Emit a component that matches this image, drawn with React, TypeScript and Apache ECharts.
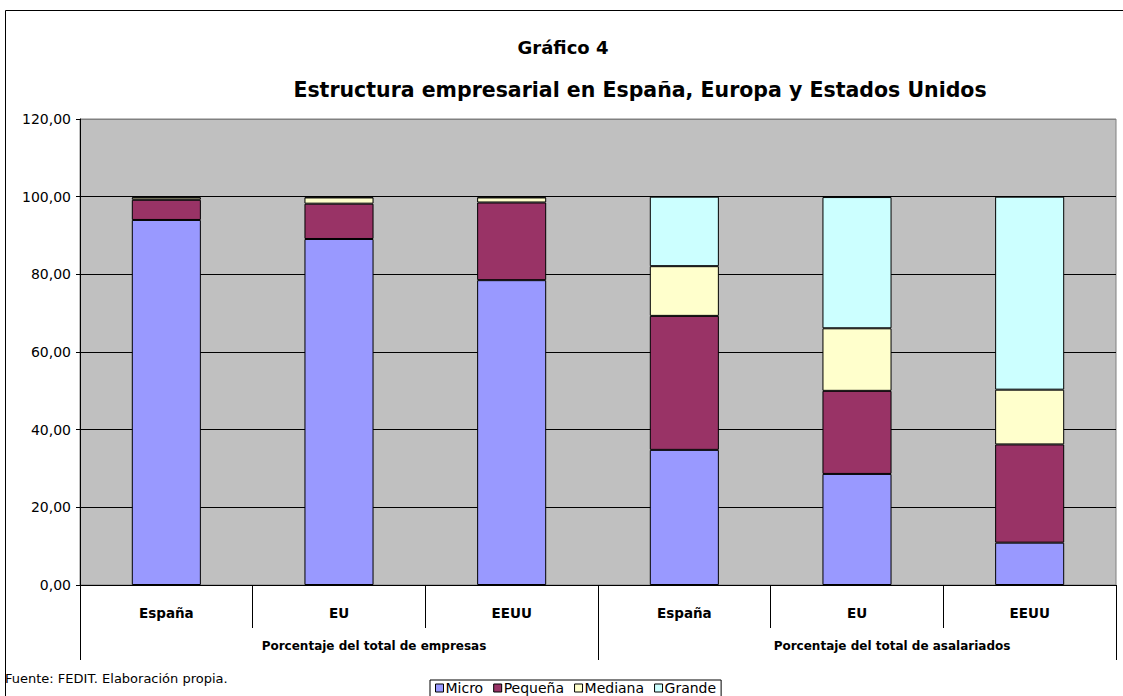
import React, { useEffect, useRef } from "react";
import * as echarts from "echarts";

const categories = ["España", "EU", "EEUU", "España", "EU", "EEUU"];
const groups = ["Porcentaje del total de empresas", "Porcentaje del total de asalariados"];
const micro = [94.0, 89.1, 78.5, 34.8, 28.6, 10.9];
const pequena = [5.2, 9.1, 20.0, 34.5, 21.4, 25.3];
const mediana = [0.6, 1.6, 1.3, 12.8, 16.1, 14.1];
const grande = [0.2, 0.2, 0.2, 17.9, 33.8, 49.7];
const seriesNames = ["Micro", "Pequeña", "Mediana", "Grande"];
const seriesColors = ["#9999FF", "#993366", "#FFFFCC", "#CCFFFF"];
const titleText = "Gráfico 4";
const subtitleText = "Estructura empresarial en España, Europa y Estados Unidos";
const sourceText = "Fuente: FEDIT. Elaboración propia.";

const FONT = "'DejaVu Sans', Arial, sans-serif";

export default function App() {
  const ref = useRef<HTMLDivElement>(null);
  useEffect(() => {
    if (!ref.current) return;
    const chart = echarts.init(ref.current, undefined, { renderer: "svg" });
    const values = [micro, pequena, mediana, grande];
    chart.setOption({
      animation: false,
      backgroundColor: "#FFFFFF",
      textStyle: { fontFamily: FONT, color: "#000" },
      graphic: [
        {
          type: "rect",
          shape: { x: 5.5, y: 10.5, width: 1300, height: 900 },
          style: { fill: "none", stroke: "#000", lineWidth: 1 },
          silent: true,
        },
        {
          type: "text",
          x: 563,
          y: 47,
          style: {
            text: titleText,
            fontFamily: FONT,
            fontSize: 18,
            fontWeight: "bold",
            fill: "#000",
            align: "center",
            verticalAlign: "middle",
          },
        },
        {
          type: "text",
          x: 640,
          y: 90,
          style: {
            text: subtitleText,
            fontFamily: FONT,
            fontSize: 20.5,
            fontWeight: "bold",
            fill: "#000",
            align: "center",
            verticalAlign: "middle",
          },
        },
        {
          type: "text",
          x: 5,
          y: 678,
          style: {
            text: sourceText,
            fontFamily: FONT,
            fontSize: 13,
            fill: "#000",
            align: "left",
            verticalAlign: "middle",
          },
        },
      ],
      legend: {
        data: seriesNames,
        left: 430,
        top: 680,
        orient: "horizontal",
        icon: "rect",
        itemWidth: 8,
        itemHeight: 8,
        itemGap: 10,
        padding: [1, 5, 3, 5],
        borderColor: "#000",
        borderWidth: 1,
        backgroundColor: "#FFFFFF",
        itemStyle: { borderColor: "#000", borderWidth: 1 },
        textStyle: { fontFamily: FONT, fontSize: 14, color: "#000", padding: [0, 0, 0, -3] },
      },
      grid: {
        left: 80,
        right: 7,
        top: 119,
        bottom: 111,
        show: true,
        backgroundColor: "#C0C0C0",
        borderColor: "#808080",
        borderWidth: 1,
      },
      xAxis: [
        {
          type: "category",
          data: categories,
          position: "bottom",
          axisLine: { show: true, lineStyle: { color: "#000", width: 1 } },
          axisTick: { show: true, interval: 0, length: 43, lineStyle: { color: "#000" } },
          axisLabel: {
            interval: 0,
            margin: 21,
            fontFamily: FONT,
            fontSize: 13.5,
            fontWeight: "bold",
            color: "#000",
          },
        },
        {
          type: "category",
          data: groups,
          position: "bottom",
          axisLine: { show: false },
          axisTick: { show: true, interval: 0, length: 75, lineStyle: { color: "#000" } },
          axisLabel: {
            interval: 0,
            margin: 55,
            fontFamily: FONT,
            fontSize: 12,
            fontWeight: "bold",
            color: "#000",
            padding: [0, 0, 0, 70],
          },
        },
      ],
      yAxis: {
        type: "value",
        min: 0,
        max: 120,
        interval: 20,
        axisLine: { show: true, lineStyle: { color: "#000" } },
        axisTick: { show: true, length: 4, lineStyle: { color: "#000" } },
        splitLine: {
          show: true,
          lineStyle: { color: ["#000", "#000", "#000", "#000", "#000", "#000", "#808080"], width: 1 },
        },
        axisLabel: {
          margin: 9,
          fontFamily: FONT,
          fontSize: 14,
          color: "#000",
          formatter: (v: number) => v.toFixed(2).replace(".", ","),
        },
      },
      series: seriesNames.map((name, i) => ({
        name,
        type: "bar",
        stack: "total",
        xAxisIndex: 0,
        barCategoryGap: "60%",
        data: values[i],
        itemStyle: { color: seriesColors[i], borderColor: "#000", borderWidth: 1 },
      })),
    });
    return () => chart.dispose();
  }, []);
  return (
    <div
      ref={ref}
      style={{ position: "fixed", left: 0, top: 0, width: 1123, height: 696, background: "#fff" }}
    />
  );
}
